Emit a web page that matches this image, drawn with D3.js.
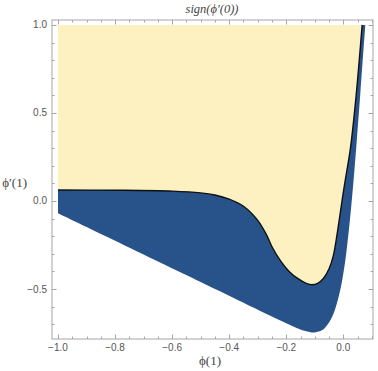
<!DOCTYPE html>
<html><head><meta charset="utf-8">
<script src="https://cdn.jsdelivr.net/npm/d3@7"></script>
<style>html,body{margin:0;padding:0;background:#fff;overflow:hidden}</style>
</head><body>
<svg id="c" width="378" height="371"></svg>
<script>
// Contour sign(phi'(0)) = 0 boundary (x = phi(1), y = phi'(1))
const boundaryX = [-1.0, -0.8, -0.6, -0.5, -0.45, -0.4, -0.35, -0.3, -0.27, -0.25, -0.22, -0.19, -0.16, -0.13, -0.11, -0.09, -0.07, -0.05, -0.035, -0.022, -0.01, 0.0, 0.01, 0.025, 0.045, 0.066];
const boundaryY = [0.062, 0.061, 0.056, 0.046, 0.034, 0.010, -0.030, -0.110, -0.190, -0.260, -0.340, -0.400, -0.440, -0.468, -0.476, -0.468, -0.440, -0.385, -0.310, -0.190, -0.060, 0.050, 0.150, 0.300, 0.600, 1.0];
// Right edge of the negative region (top to bottom)
const rightX = [0.077, 0.06, 0.046, 0.036, 0.026, 0.017, 0.005, -0.01, -0.03, -0.05, -0.075, -0.1];
const rightY = [1.0, 0.62, 0.32, 0.12, -0.06, -0.2, -0.36, -0.5, -0.62, -0.69, -0.735, -0.747];
// Lower edge of the negative region (right to left)
const lowerX = [-0.1, -0.115, -0.14, -0.2, -0.5, -1.0];
const lowerY = [-0.747, -0.745, -0.736, -0.694, -0.46, -0.07];
// Axis ticks
const xTicks = [-1.0, -0.8, -0.6, -0.4, -0.2, 0.0];
const yTicks = [-0.5, 0.0, 0.5, 1.0];
const xMinor = d3.range(-1.0, 0.101, 0.05);
const yMinor = d3.range(-0.7, 1.001, 0.1);
const title = "sign(ϕ′(0))";
const xLabel = "ϕ(1)";
const yLabel = "ϕ′(1)";

const svg = d3.select("#c");
const L = 52, R = 373, T = 20, B = 339;
const x = d3.scaleLinear().domain([-1.021, 0.104]).range([L, R]);
const y = d3.scaleLinear().domain([-0.784, 1.028]).range([B, T]);

const pts = (xs, ys) => xs.map((v, i) => [v, ys[i]]);
const boundary = pts(boundaryX, boundaryY);
const right = pts(rightX, rightY);
const lower = pts(lowerX, lowerY);

const smooth = d3.line().x(d => x(d[0])).y(d => y(d[1])).curve(d3.curveCatmullRom.alpha(0.5));
const straight = d3.line().x(d => x(d[0])).y(d => y(d[1]));
function join(parts) {
  return parts.map((p, i) => i === 0 ? p : "L" + p.slice(1)).join("") + "Z";
}

// Blue (negative) region
const bluePath = join([
  straight([[-1.0, 1.0], [0.077, 1.0]]),
  smooth(right),
  smooth(lower),
  straight([[-1.0, -0.07], [-1.0, 1.0]])
]);
svg.append("path").attr("d", bluePath).attr("fill", "#27528a");

// Yellow (positive) region
const yellowPath = join([
  straight([[-1.0, 1.0], [0.066, 1.0]]),
  smooth(boundary.slice().reverse()),
  straight([[-1.0, 0.062], [-1.0, 1.0]])
]);
svg.append("path").attr("d", yellowPath).attr("fill", "#fdf0c1");

// Contour line
svg.append("path").attr("d", smooth(boundary)).attr("fill", "none")
  .attr("stroke", "#111").attr("stroke-width", 1.4);

// Frame
const frameCol = "#a6a6a6";
svg.append("rect").attr("x", L).attr("y", T).attr("width", R - L).attr("height", B - T)
  .attr("fill", "none").attr("stroke", frameCol).attr("stroke-width", 1);

const g = svg.append("g").attr("stroke", frameCol).attr("stroke-width", 1);
const isMajor = (v, arr) => arr.some(t => Math.abs(t - v) < 1e-6);
xMinor.forEach(v => {
  const len = isMajor(v, xTicks) ? 4.5 : 2.5;
  const px = Math.round(x(v)) + 0.5;
  g.append("line").attr("x1", px).attr("x2", px).attr("y1", B).attr("y2", B - len);
  g.append("line").attr("x1", px).attr("x2", px).attr("y1", T).attr("y2", T + len);
});
yMinor.forEach(v => {
  const len = isMajor(v, yTicks) ? 4.5 : 2.5;
  const py = Math.round(y(v)) + 0.5;
  g.append("line").attr("y1", py).attr("y2", py).attr("x1", L).attr("x2", L + len);
  g.append("line").attr("y1", py).attr("y2", py).attr("x1", R).attr("x2", R - len);
});

const fmt = v => (v < 0 ? "−" : "") + Math.abs(v).toFixed(1);
const lab = svg.append("g").attr("font-family", "Liberation Sans, Arial, sans-serif")
  .attr("font-size", 10).attr("fill", "#555");
xTicks.forEach(v => lab.append("text").attr("x", x(v)).attr("y", B + 12)
  .attr("text-anchor", "middle").text(fmt(v)));
yTicks.forEach(v => lab.append("text").attr("x", L - 5).attr("y", y(v) + 3.5)
  .attr("text-anchor", "end").text(fmt(v)));

const serif = "Liberation Serif, Times New Roman, serif";
svg.append("text").attr("x", 212).attr("y", 13).attr("text-anchor", "middle")
  .attr("font-family", serif).attr("font-style", "italic").attr("font-size", 12.5)
  .attr("fill", "#444").text(title);
svg.append("text").attr("x", 210).attr("y", 365).attr("text-anchor", "middle")
  .attr("font-family", serif).attr("font-size", 13).attr("fill", "#444").text(xLabel);
svg.append("text").attr("x", 27).attr("y", 187).attr("text-anchor", "end")
  .attr("font-family", serif).attr("font-size", 13).attr("fill", "#444").text(yLabel);
</script>
</body></html>
